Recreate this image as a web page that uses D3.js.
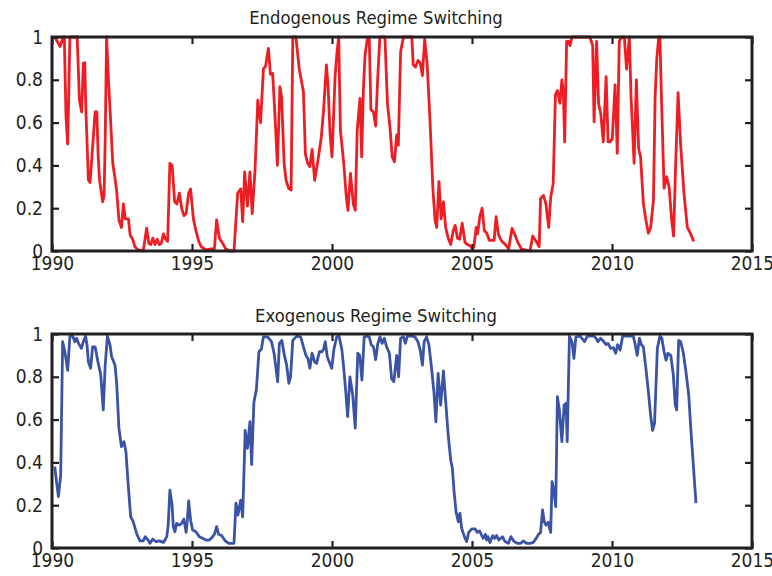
<!DOCTYPE html>
<html>
<head>
<meta charset="utf-8">
<script src="https://cdn.jsdelivr.net/npm/d3@7"></script>
<style>
  html, body { margin: 0; padding: 0; background: #fff; }
  svg { display: block; }
  .tick text { font-family: "DejaVu Sans Condensed", "DejaVu Sans", sans-serif; font-stretch: condensed; }
</style>
</head>
<body>
<svg id="chart" width="772" height="576"></svg>
<script>
// ---------------- DATA ----------------
const endoYears = [1990.1,1990.29,1990.4,1990.44,1990.5,1990.56,1990.64,1990.9,1990.98,1991.06,1991.12,1991.17,1991.21,1991.3,1991.36,1991.54,1991.6,1991.65,1991.7,1991.81,1991.86,1991.9,1991.95,1992.01,1992.07,1992.17,1992.25,1992.31,1992.39,1992.48,1992.55,1992.62,1992.73,1992.79,1992.88,1992.96,1993.08,1993.26,1993.38,1993.46,1993.53,1993.6,1993.68,1993.76,1993.83,1993.9,1993.98,1994.06,1994.13,1994.21,1994.29,1994.38,1994.46,1994.55,1994.63,1994.71,1994.79,1994.88,1994.95,1995.05,1995.14,1995.24,1995.33,1995.5,1995.68,1995.8,1995.88,1995.98,1996.1,1996.2,1996.36,1996.5,1996.63,1996.74,1996.81,1996.88,1996.98,1997.07,1997.15,1997.25,1997.35,1997.45,1997.55,1997.63,1997.73,1997.8,1997.88,1997.96,1998.05,1998.14,1998.2,1998.29,1998.36,1998.45,1998.54,1998.6,1998.71,1998.83,1998.98,1999.05,1999.13,1999.21,1999.29,1999.38,1999.5,1999.62,1999.7,1999.8,1999.86,1999.93,2000.0,2000.11,2000.18,2000.24,2000.3,2000.42,2000.51,2000.57,2000.66,2000.76,2000.83,2000.9,2001.0,2001.06,2001.12,2001.18,2001.26,2001.33,2001.39,2001.48,2001.56,2001.63,2001.71,2001.89,2001.98,2002.07,2002.15,2002.23,2002.31,2002.37,2002.45,2002.55,2002.85,2002.9,2002.98,2003.07,2003.15,2003.23,2003.31,2003.4,2003.5,2003.6,2003.68,2003.74,2003.82,2003.9,2003.98,2004.06,2004.15,2004.24,2004.33,2004.4,2004.48,2004.56,2004.65,2004.75,2004.84,2004.93,2005.02,2005.07,2005.15,2005.2,2005.28,2005.36,2005.44,2005.52,2005.62,2005.7,2005.79,2005.86,2005.94,2006.0,2006.07,2006.19,2006.31,2006.43,2006.52,2006.64,2006.76,2006.9,2007.07,2007.17,2007.29,2007.4,2007.45,2007.55,2007.64,2007.74,2007.81,2007.9,2007.98,2008.05,2008.14,2008.21,2008.26,2008.31,2008.38,2008.45,2008.5,2008.57,2009.21,2009.31,2009.36,2009.45,2009.52,2009.6,2009.69,2009.79,2009.86,2009.93,2010.01,2010.11,2010.19,2010.26,2010.35,2010.44,2010.52,2010.62,2010.68,2010.79,2010.87,2010.95,2011.02,2011.12,2011.21,2011.3,2011.38,2011.48,2011.54,2011.6,2011.67,2011.71,2011.77,2011.86,2011.95,2012.04,2012.13,2012.2,2012.27,2012.36,2012.45,2012.57,2012.69,2012.81,2012.92];
const endoValues = [1.0,0.955,1.0,1.0,0.63,0.5,1.0,1.0,0.705,0.65,0.877,0.88,0.66,0.332,0.32,0.65,0.65,0.44,0.33,0.23,0.26,0.52,1.0,0.815,0.67,0.41,0.34,0.28,0.145,0.11,0.22,0.15,0.15,0.075,0.055,0.02,0.005,0.0,0.107,0.035,0.03,0.06,0.03,0.055,0.03,0.035,0.08,0.055,0.045,0.41,0.4,0.23,0.22,0.27,0.2,0.165,0.175,0.27,0.29,0.15,0.095,0.045,0.02,0.005,0.01,0.01,0.145,0.06,0.035,0.01,0.0,0.0,0.27,0.29,0.137,0.37,0.21,0.37,0.175,0.375,0.705,0.6,0.85,0.865,0.947,0.826,0.83,0.643,0.4,0.768,0.72,0.41,0.33,0.293,0.285,1.0,1.0,0.85,0.744,0.453,0.41,0.394,0.475,0.33,0.425,0.534,0.66,0.87,0.77,0.55,0.44,0.815,0.93,1.0,0.565,0.41,0.254,0.19,0.363,0.22,0.19,0.565,0.713,0.44,0.75,0.916,0.99,1.0,0.66,0.65,0.584,0.8,1.0,1.0,0.69,0.58,0.44,0.417,0.542,0.495,0.93,1.0,1.0,0.87,0.86,0.89,0.88,0.82,0.99,0.87,0.61,0.3,0.145,0.11,0.324,0.15,0.23,0.11,0.06,0.03,0.095,0.12,0.06,0.055,0.13,0.04,0.03,0.025,0.01,0.02,0.11,0.08,0.16,0.2,0.095,0.085,0.05,0.05,0.05,0.16,0.08,0.06,0.045,0.03,0.01,0.106,0.08,0.04,0.01,0.005,0.0,0.07,0.045,0.02,0.246,0.26,0.22,0.11,0.25,0.316,0.73,0.75,0.69,0.8,0.75,0.51,0.98,0.98,0.96,1.0,1.0,0.96,0.604,0.98,0.69,0.64,0.51,0.815,0.51,0.51,0.525,0.776,0.456,0.98,1.0,1.0,0.85,1.0,0.72,0.41,0.8,0.48,0.44,0.223,0.145,0.083,0.11,0.235,0.72,0.9,1.0,1.0,0.7,0.293,0.347,0.3,0.145,0.07,0.39,0.74,0.5,0.27,0.11,0.08,0.045];

const exoYears = [1990.1,1990.16,1990.23,1990.31,1990.38,1990.46,1990.56,1990.64,1990.74,1990.82,1990.88,1990.95,1991.05,1991.12,1991.2,1991.25,1991.3,1991.38,1991.45,1991.54,1991.64,1991.74,1991.83,1991.9,1991.98,1992.07,1992.13,1992.25,1992.31,1992.39,1992.48,1992.57,1992.64,1992.73,1992.81,1992.9,1993.02,1993.14,1993.26,1993.33,1993.43,1993.5,1993.6,1993.71,1993.83,1993.98,1994.1,1994.15,1994.21,1994.29,1994.33,1994.39,1994.45,1994.55,1994.63,1994.71,1994.79,1994.83,1994.88,1994.95,1995.02,1995.14,1995.26,1995.38,1995.5,1995.62,1995.74,1995.8,1995.88,1995.95,1996.06,1996.19,1996.31,1996.5,1996.57,1996.64,1996.74,1996.81,1996.9,1996.98,1997.07,1997.13,1997.21,1997.3,1997.39,1997.48,1997.55,1997.7,1997.84,1997.93,1998.0,1998.06,1998.12,1998.21,1998.3,1998.38,1998.46,1998.52,1998.6,1998.74,1998.88,1998.98,1999.07,1999.14,1999.21,1999.29,1999.38,1999.45,1999.55,1999.64,1999.7,1999.76,1999.83,1999.99,2000.07,2000.17,2000.25,2000.35,2000.42,2000.5,2000.56,2000.64,2000.74,2000.83,2000.92,2000.99,2001.07,2001.15,2001.26,2001.33,2001.4,2001.48,2001.56,2001.63,2001.71,2001.79,2001.87,2001.95,2002.05,2002.13,2002.21,2002.31,2002.38,2002.45,2002.55,2002.62,2002.69,2002.85,2002.96,2003.07,2003.15,2003.23,2003.29,2003.38,2003.46,2003.55,2003.64,2003.71,2003.79,2003.88,2003.98,2004.07,2004.15,2004.24,2004.3,2004.36,2004.43,2004.51,2004.57,2004.63,2004.73,2004.81,2004.88,2004.99,2005.11,2005.19,2005.27,2005.33,2005.4,2005.48,2005.52,2005.57,2005.64,2005.74,2005.81,2005.88,2005.96,2006.09,2006.18,2006.3,2006.39,2006.5,2006.62,2006.74,2006.83,2006.95,2007.07,2007.19,2007.29,2007.38,2007.45,2007.52,2007.58,2007.64,2007.72,2007.81,2007.86,2007.93,2007.99,2008.05,2008.12,2008.21,2008.29,2008.36,2008.4,2008.48,2008.57,2008.64,2008.71,2008.86,2009.02,2009.12,2009.36,2009.43,2009.5,2009.59,2009.71,2009.79,2009.86,2009.95,2010.05,2010.13,2010.2,2010.29,2010.38,2010.76,2010.83,2010.9,2010.98,2011.05,2011.12,2011.21,2011.3,2011.38,2011.45,2011.52,2011.62,2011.71,2011.78,2011.86,2011.93,2012.0,2012.1,2012.19,2012.26,2012.31,2012.38,2012.45,2012.55,2012.64,2012.74,2012.83,2012.93,2013.0];
const exoValues = [0.38,0.31,0.24,0.34,0.964,0.917,0.83,0.99,0.99,0.964,0.98,0.955,0.933,0.964,0.99,0.95,0.87,0.84,0.94,0.94,0.87,0.81,0.645,0.855,0.99,0.95,0.894,0.855,0.77,0.56,0.474,0.497,0.45,0.28,0.146,0.123,0.068,0.033,0.033,0.053,0.037,0.022,0.042,0.03,0.033,0.026,0.053,0.107,0.27,0.2,0.1,0.076,0.115,0.107,0.115,0.135,0.073,0.123,0.22,0.13,0.084,0.076,0.053,0.045,0.037,0.037,0.053,0.064,0.1,0.064,0.058,0.033,0.022,0.022,0.21,0.154,0.224,0.146,0.55,0.466,0.59,0.39,0.68,0.74,0.917,0.93,0.987,0.987,0.964,0.91,0.84,0.777,0.956,0.97,0.9,0.855,0.77,0.8,0.97,0.99,0.987,0.94,0.9,0.886,0.84,0.91,0.87,0.863,0.917,0.917,0.93,0.964,0.894,0.84,0.93,0.987,0.99,0.93,0.84,0.715,0.614,0.8,0.715,0.56,0.91,0.9,0.785,0.987,0.99,0.987,0.95,0.94,0.88,0.95,0.987,0.956,0.98,0.94,0.91,0.79,0.777,0.9,0.8,0.98,0.987,0.956,0.99,0.99,0.987,0.964,0.925,0.855,0.964,0.987,0.95,0.847,0.73,0.59,0.816,0.668,0.827,0.668,0.528,0.41,0.372,0.263,0.17,0.123,0.162,0.092,0.053,0.03,0.073,0.089,0.089,0.073,0.08,0.064,0.045,0.064,0.037,0.053,0.026,0.058,0.045,0.058,0.037,0.053,0.03,0.022,0.053,0.03,0.022,0.022,0.033,0.022,0.022,0.026,0.045,0.064,0.073,0.178,0.123,0.107,0.12,0.073,0.31,0.263,0.193,0.707,0.645,0.497,0.668,0.676,0.497,0.99,0.964,0.886,0.987,0.99,0.964,0.99,0.99,0.98,0.964,0.98,0.964,0.95,0.956,0.933,0.936,0.91,0.95,0.925,0.99,0.99,0.95,0.9,0.98,0.95,0.94,0.84,0.73,0.62,0.55,0.583,0.933,0.99,0.98,0.917,0.878,0.91,0.9,0.808,0.668,0.645,0.97,0.964,0.91,0.824,0.715,0.528,0.34,0.21];

const xTicks = [1990, 1995, 2000, 2005, 2010, 2015];
const yTicks = [0, 0.2, 0.4, 0.6, 0.8, 1];
const titles = ["Endogenous Regime Switching", "Exogenous Regime Switching"];

// ---------------- DRAWING ----------------
const svg = d3.select("#chart");
const FONT = '"DejaVu Sans Condensed", "DejaVu Sans", sans-serif';
const left = 52, right = 752;
const panels = [
  { top: 37, bottom: 251, years: endoYears, values: endoValues, color: "#ee1d23", title: titles[0], titleY: 24 },
  { top: 334, bottom: 548, years: exoYears, values: exoValues, color: "#3a53a4", title: titles[1], titleY: 322 }
];
const yFmt = d => d === 0 ? "0" : d === 1 ? "1" : d3.format(".1f")(d);

panels.forEach(p => {
  const x = d3.scaleLinear().domain([1990, 2015]).range([left, right]);
  const y = d3.scaleLinear().domain([0, 1]).range([p.bottom, p.top]);
  const g = svg.append("g");

  // data line
  const data = p.years.map((yr, i) => [yr, p.values[i]]);
  g.append("path")
    .datum(data)
    .attr("fill", "none")
    .attr("stroke", p.color)
    .attr("stroke-width", 2.8)
    .attr("stroke-linejoin", "round")
    .attr("d", d3.line().x(d => x(d[0])).y(d => y(d[1])));

  const styleAxis = (sel, labels) => {
    sel.select(".domain").remove();
    sel.selectAll(".tick line").attr("stroke", "#231f20").attr("stroke-width", 2.2);
    sel.selectAll(".tick text")
      .attr("fill", "#231f20")
      .style("font-family", FONT)
      .style("font-size", "19px");
    if (!labels) sel.selectAll(".tick text").remove();
  };

  g.append("g").attr("transform", `translate(0,${p.bottom})`)
    .call(d3.axisBottom(x).tickValues(xTicks).tickFormat(d3.format("d")).tickSize(-7).tickPadding(6))
    .call(s => styleAxis(s, true));
  g.append("g").attr("transform", `translate(0,${p.top})`)
    .call(d3.axisTop(x).tickValues(xTicks).tickSize(-7))
    .call(s => styleAxis(s, false));
  g.append("g").attr("transform", `translate(${left},0)`)
    .call(d3.axisLeft(y).tickValues(yTicks).tickFormat(yFmt).tickSize(-7).tickPadding(9))
    .call(s => styleAxis(s, true));
  g.append("g").attr("transform", `translate(${right},0)`)
    .call(d3.axisRight(y).tickValues(yTicks).tickSize(-7))
    .call(s => styleAxis(s, false));

  // frame
  g.append("rect")
    .attr("x", left).attr("y", p.top)
    .attr("width", right - left).attr("height", p.bottom - p.top)
    .attr("fill", "none").attr("stroke", "#231f20").attr("stroke-width", 3);

  // title
  svg.append("text")
    .attr("x", 376).attr("y", p.titleY)
    .attr("text-anchor", "middle")
    .attr("fill", "#231f20")
    .style("font-family", FONT)
    .style("font-size", "18.3px")
    .text(p.title);
});
</script>
</body>
</html>
